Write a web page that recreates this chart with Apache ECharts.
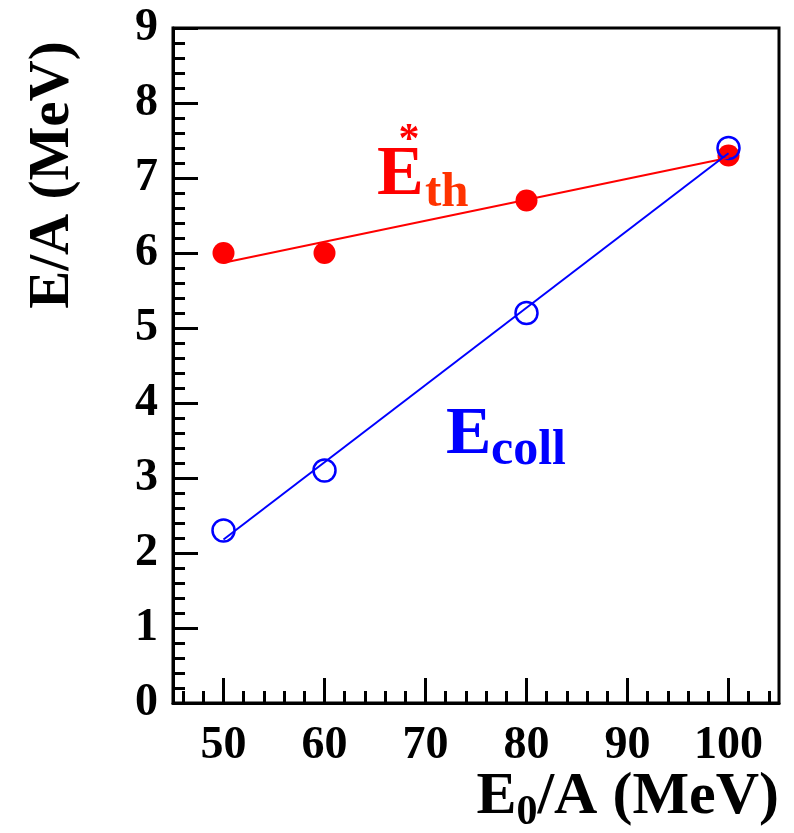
<!DOCTYPE html>
<html>
<head>
<meta charset="utf-8">
<script src="https://cdn.jsdelivr.net/npm/echarts@6/dist/echarts.min.js"></script>
<style>
  html, body { margin: 0; padding: 0; background: #ffffff; }
  #chart { width: 794px; height: 833px; }
</style>
</head>
<body>
<div id="chart"></div>
<script>
// Beam energy per nucleon (MeV)
const energies = [50, 60, 80, 100];
// Thermal excitation energy per nucleon, E*_th (MeV)
const thermal = [6.0, 6.0, 6.7, 7.3];
// Collective energy per nucleon, E_coll (MeV)
const collective = [2.3, 3.1, 5.2, 7.4];
// Straight-line fits, end points at 50 and 100 MeV
const fitRange = [50, 100];
const thermalFit = [5.87, 7.27];
const collectiveFit = [2.18, 7.33];
// Axis ticks
const xMajorTicks = [50, 60, 70, 80, 90, 100];
const xMinorTicks = [46, 48, 52, 54, 56, 58, 62, 64, 66, 68, 72, 74, 76, 78,
                     82, 84, 86, 88, 92, 94, 96, 98, 102, 104];
const yTickLabels = [0, 1, 2, 3, 4, 5, 6, 7, 8, 9];

const FONT = '"Liberation Serif", "Times New Roman", serif';
const RED = '#ff0000';
const BLUE = '#0000ff';

const pairs = (xs, ys) => xs.map((x, i) => [x, ys[i]]);

const chart = echarts.init(document.getElementById('chart'), null, { renderer: 'canvas' });

const baseX = {
  type: 'value', min: 45, max: 105, gridIndex: 0,
  splitLine: { show: false }
};

chart.setOption({
  animation: false,
  backgroundColor: '#ffffff',
  grid: {
    left: 173, top: 28, width: 606, height: 675,
    show: true, borderColor: '#000000', borderWidth: 3,
    backgroundColor: 'transparent'
  },
  xAxis: [
    Object.assign({}, baseX, {
      position: 'bottom',
      axisLine: { show: true, lineStyle: { color: '#000', width: 3 } },
      axisTick: { show: true, inside: true, length: 25, customValues: xMajorTicks,
                  lineStyle: { color: '#000', width: 3 } },
      axisLabel: { show: true, customValues: xMajorTicks, margin: 20,
                   color: '#000', fontFamily: FONT, fontWeight: 'bold', fontSize: 46 }
    }),
    Object.assign({}, baseX, {
      position: 'bottom',
      axisLine: { show: false },
      axisTick: { show: true, inside: true, length: 12, customValues: xMinorTicks,
                  lineStyle: { color: '#000', width: 3 } },
      axisLabel: { show: false }
    })
  ],
  yAxis: {
    type: 'value', min: 0, max: 9, interval: 1,
    splitLine: { show: false },
    axisLine: { show: true, lineStyle: { color: '#000', width: 3 } },
    axisTick: { show: true, inside: true, length: 25, lineStyle: { color: '#000', width: 3 } },
    minorTick: { show: true, splitNumber: 5, length: 12, lineStyle: { color: '#000', width: 3 } },
    minorSplitLine: { show: false },
    axisLabel: {
      show: true, margin: 15, color: '#000', fontFamily: FONT, fontWeight: 'bold', fontSize: 46,
      formatter: v => (yTickLabels.indexOf(v) >= 0 ? String(v) : '')
    }
  },
  series: [
    {
      name: 'thermal fit', type: 'line', xAxisIndex: 0,
      data: pairs(fitRange, thermalFit),
      showSymbol: false, symbol: 'none',
      lineStyle: { color: RED, width: 2 }
    },
    {
      name: 'thermal', type: 'scatter', xAxisIndex: 0,
      data: pairs(energies, thermal),
      symbol: 'circle', symbolSize: 22,
      itemStyle: { color: RED, opacity: 1 }
    },
    {
      name: 'collective fit', type: 'line', xAxisIndex: 0,
      data: pairs(fitRange, collectiveFit),
      showSymbol: false, symbol: 'none',
      lineStyle: { color: BLUE, width: 2 }
    },
    {
      name: 'collective', type: 'scatter', xAxisIndex: 0,
      data: pairs(energies, collective),
      symbol: 'circle', symbolSize: 22,
      itemStyle: { color: 'rgba(0,0,0,0)', borderColor: BLUE, borderWidth: 2.5, opacity: 1 }
    }
  ],
  graphic: [
    // y axis title
    {
      type: 'text', x: 53, y: 175, rotation: Math.PI / 2,
      style: { text: 'E/A (MeV)', fill: '#000', font: 'bold 57px ' + FONT,
               align: 'center', verticalAlign: 'middle' }
    },
    // x axis title: E, subscript 0, /A (MeV)
    {
      type: 'text', x: 779, y: 797,
      style: {
        text: '{m|E}{s|0}{m|/A (MeV)}',
        align: 'right', verticalAlign: 'middle',
        rich: {
          m: { fill: '#000', fontFamily: FONT, fontWeight: 'bold', fontSize: 60 },
          s: { fill: '#000', fontFamily: FONT, fontWeight: 'bold', fontSize: 42, padding: [32, 0, 0, 0] }
        }
      }
    },
    // E*_th label
    {
      type: 'text', x: 377, y: 176,
      style: { text: 'E', fill: RED, font: 'bold 70px ' + FONT, align: 'left', verticalAlign: 'middle' }
    },
    {
      type: 'text', x: 425, y: 193,
      style: { text: 'th', fill: '#ff3300', font: 'bold 49px ' + FONT, align: 'left', verticalAlign: 'middle' }
    },
    {
      type: 'text', x: 409, y: 141,
      style: { text: '*', fill: RED, font: 'bold 42px ' + FONT, align: 'center', verticalAlign: 'middle' }
    },
    // E_coll label
    {
      type: 'text', x: 446, y: 435,
      style: { text: 'E', fill: BLUE, font: 'bold 68px ' + FONT, align: 'left', verticalAlign: 'middle' }
    },
    {
      type: 'text', x: 491, y: 451,
      style: { text: 'coll', fill: BLUE, font: 'bold 50px ' + FONT, align: 'left', verticalAlign: 'middle' }
    }
  ]
});
</script>
</body>
</html>
